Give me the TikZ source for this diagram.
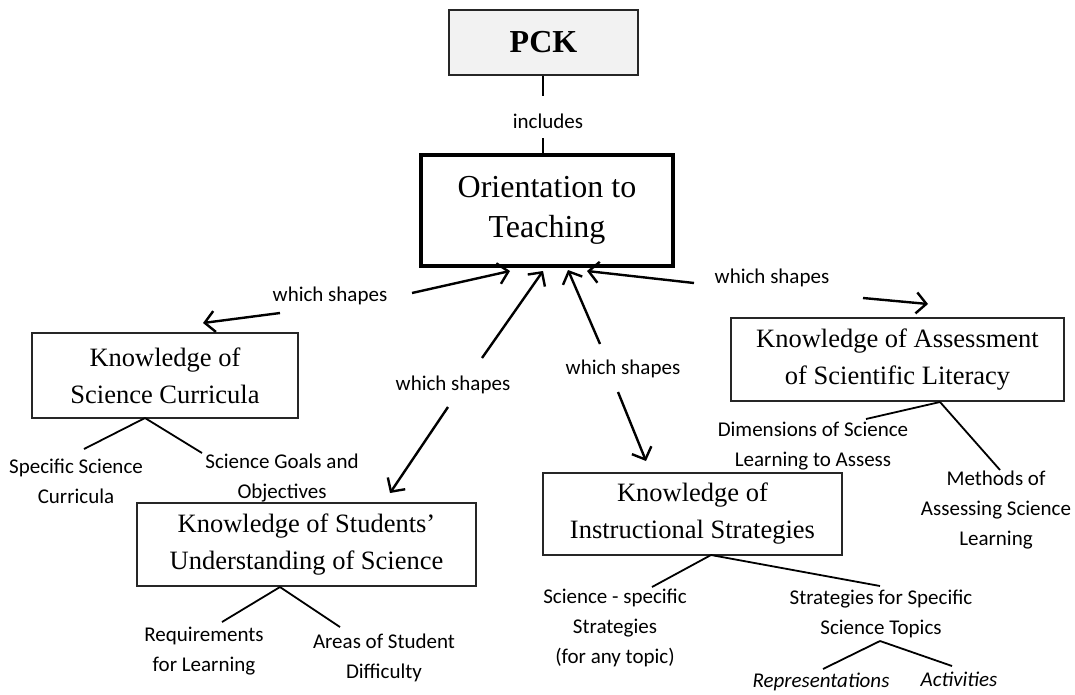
\documentclass[tikz,border=0pt]{standalone}
\usepackage{fontspec}
\setmainfont{Liberation Serif}
\newfontfamily\labfont{Carlito}
\usetikzlibrary{arrows.meta}
\definecolor{pckgray}{HTML}{F2F2F2}
\begin{document}
\begin{tikzpicture}[x=1pt,y=-1pt,
  box/.style={draw=black!85, line width=1.3pt, align=center, inner sep=0pt, font=\fontsize{26.5}{37}\selectfont},
  lbl/.style={align=center, inner sep=0pt, font=\labfont\fontsize{21}{30}\selectfont},
  arr/.style={line width=2.4pt, -{Straight Barb[length=10pt,width=21pt]}},
  ln/.style={line width=1.8pt}]
\useasboundingbox (0,0) rectangle (1075,694);

% boxes
\node[box, fill=pckgray, minimum width=189pt, minimum height=65pt,
      font=\bfseries\fontsize{32}{38}\selectfont] (pck) at (543.5,42.5) {PCK};
\node[box, line width=4.5pt, draw=black, minimum width=252pt, minimum height=111pt,
      font=\fontsize{32}{40}\selectfont] (ot) at (547,210.5) {Orientation to\\Teaching};
\node[box, minimum width=266pt, minimum height=85pt] (ksc) at (165,375.5) {Knowledge of\\Science Curricula};
\node[box, minimum width=339pt, minimum height=83pt] (ksu) at (306.5,544.5) {Knowledge of Students’\\Understanding of Science};
\node[box, minimum width=299pt, minimum height=82pt] (kis) at (692.5,514) {Knowledge of\\Instructional Strategies};
\node[box, minimum width=333pt, minimum height=83pt] (kasl) at (897.5,359.5) {Knowledge of Assessment\\of Scientific Literacy};

% includes
\node[lbl] (inc) at (548,121) {includes};
\coordinate (i1) at (543,96);
\coordinate (i2) at (543,138);
\draw[line width=1.3pt] (pck.south -| i1) -- (i1);
\draw[line width=1.3pt] (i2) -- (ot.north -| i2);

% which shapes labels
\node[lbl] (w1) at (330,296) {which shapes};
\node[lbl] (w2) at (453,385) {which shapes};
\node[lbl] (w3) at (623,369) {which shapes};
\node[lbl] (w4) at (772,278) {which shapes};

% arrow end points
\coordinate (a1s) at (280,313); \coordinate (a1t) at (203,323);
\coordinate (a1u) at (412,293); \coordinate (a1v) at (510,271);
\coordinate (a2s) at (482,358); \coordinate (a2t) at (543,271);
\coordinate (a2u) at (448,407); \coordinate (a2v) at (390,493);
\coordinate (a3s) at (600,344); \coordinate (a3t) at (568,270);
\coordinate (a3u) at (618,392); \coordinate (a3v) at (646,461);
\coordinate (a4s) at (694,283); \coordinate (a4t) at (587,271);
\coordinate (a4u) at (863,298); \coordinate (a4v) at (928,304);

\draw[arr] (a1s) -- (a1t);
\draw[arr] (a1u) -- (a1v);
\draw[arr] (a2s) -- (a2t);
\draw[arr] (a2u) -- (a2v);
\draw[arr] (a3s) -- (a3t);
\draw[arr] (a3u) -- (a3v);
\draw[arr] (a4s) -- (a4t);
\draw[arr] (a4u) -- (a4v);

% children labels
\node[lbl] (c1) at (76,481) {Specific Science\\Curricula};
\node[lbl] (c2) at (282,478) {Science Goals and\\Objectives};
\node[lbl] (c3) at (204,651) {Requirements\\for Learning};
\node[lbl] (c4) at (384,658) {Areas of Student\\Difficulty};
\node[lbl] (c5) at (615,628) {Science - specific\\Strategies\\(for any topic)};
\node[lbl] (c6) at (881,614) {Strategies for Specific\\Science Topics};
\node[lbl] (c7) at (821,682) {\itshape Representations};
\node[lbl] (c8) at (959,679) {\itshape Activities};
\node[lbl] (c9) at (813,446) {Dimensions of Science\\Learning to Assess};
\node[lbl] (c10) at (996,510) {Methods of\\Assessing Science\\Learning};

% child connectors
\coordinate (j1) at (145,418);
\coordinate (e1) at (84,449); \coordinate (e2) at (202,453);
\draw[ln] (j1) -- (e1); \draw[ln] (j1) -- (e2);
\coordinate (j2) at (280,587);
\coordinate (e3) at (222,622); \coordinate (e4) at (340,627);
\draw[ln] (j2) -- (e3); \draw[ln] (j2) -- (e4);
\coordinate (j3) at (711,555);
\coordinate (e5) at (652,587); \coordinate (e6) at (880,586);
\draw[ln] (j3) -- (e5); \draw[ln] (j3) -- (e6);
\coordinate (j4) at (880,641);
\coordinate (e7) at (823,669); \coordinate (e8) at (952,666);
\draw[ln] (j4) -- (e7); \draw[ln] (j4) -- (e8);
\coordinate (j5) at (940,402);
\coordinate (e9) at (866,419); \coordinate (e10) at (1000,470);
\draw[ln] (j5) -- (e9); \draw[ln] (j5) -- (e10);
\end{tikzpicture}
\end{document}
